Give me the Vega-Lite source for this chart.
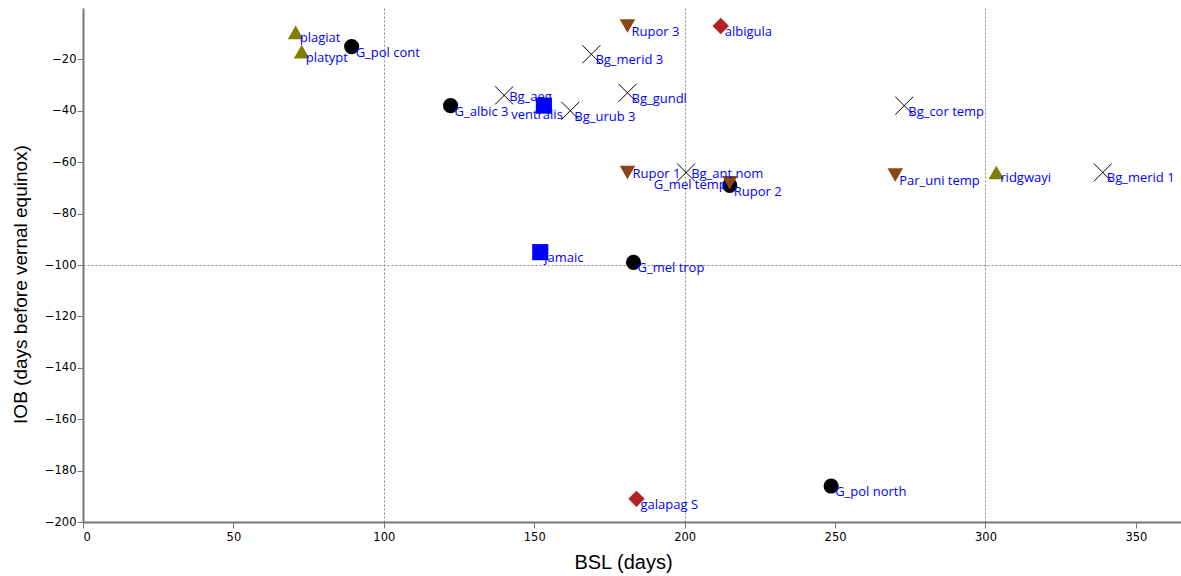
{
  "$schema": "https://vega.github.io/schema/vega-lite/v6.json",
  "width": 1098,
  "height": 514,
  "autosize": {"type": "none"},
  "padding": {"left": 83, "top": 8, "right": 0, "bottom": 54},
  "background": "white",
  "config": {
    "view": {"stroke": null},
    "axis": {
      "domainColor": "#777777",
      "domainWidth": 2,
      "tickColor": "#777777",
      "tickSize": 6,
      "gridColor": "#888888",
      "gridDash": [2, 2],
      "gridWidth": 1,
      "labelFont": "DejaVu Sans",
      "labelFontSize": 11.5,
      "labelColor": "#000000",
      "titleFont": "Liberation Sans",
      "titleFontSize": 19,
      "titleFontWeight": "normal",
      "titleColor": "#000000"
    }
  },
  "data": {
    "values": [
      {"name": "G_pol cont", "BSL": 89.3, "IOB": -15, "cat": "G"},
      {"name": "G_albic 3", "BSL": 122.2, "IOB": -38, "cat": "G"},
      {"name": "G_mel temp", "BSL": 215, "IOB": -69, "cat": "G"},
      {"name": "G_mel trop", "BSL": 183, "IOB": -99, "cat": "G"},
      {"name": "G_pol north", "BSL": 248.7, "IOB": -186, "cat": "G"},
      {"name": "plagiat", "BSL": 70.7, "IOB": -9.5, "cat": "T"},
      {"name": "platypt", "BSL": 72.7, "IOB": -17, "cat": "T"},
      {"name": "ridgwayi", "BSL": 303.6, "IOB": -64, "cat": "T"},
      {"name": "Rupor 3", "BSL": 181, "IOB": -7, "cat": "R"},
      {"name": "Rupor 1", "BSL": 181, "IOB": -64, "cat": "R"},
      {"name": "Rupor 2", "BSL": 215, "IOB": -68, "cat": "R"},
      {"name": "Par_uni temp", "BSL": 270, "IOB": -65, "cat": "R"},
      {"name": "albigula", "BSL": 212, "IOB": -7, "cat": "D"},
      {"name": "galapag S", "BSL": 184, "IOB": -191, "cat": "D"},
      {"name": "ventralis", "BSL": 153.2, "IOB": -38, "cat": "S"},
      {"name": "jamaic", "BSL": 152, "IOB": -95, "cat": "S"},
      {"name": "Bg_aeg", "BSL": 140, "IOB": -34, "cat": "Bg"},
      {"name": "Bg_urub 3", "BSL": 162, "IOB": -40, "cat": "Bg"},
      {"name": "Bg_merid 3", "BSL": 169, "IOB": -18, "cat": "Bg"},
      {"name": "Bg_gundl", "BSL": 181, "IOB": -33, "cat": "Bg"},
      {"name": "Bg_cor temp", "BSL": 273, "IOB": -38, "cat": "Bg"},
      {"name": "Bg_ant nom", "BSL": 200.5, "IOB": -64, "cat": "Bg"},
      {"name": "Bg_merid 1", "BSL": 339, "IOB": -64, "cat": "Bg"}
    ]
  },
  "encoding": {
    "x": {
      "field": "BSL",
      "type": "quantitative",
      "scale": {"domain": [0, 365], "nice": false, "zero": false},
      "axis": {
        "title": "BSL (days)",
        "values": [0, 50, 100, 150, 200, 250, 300, 350],
        "grid": true,
        "gridOpacity": {"condition": {"test": "datum.value % 100 === 0 && datum.value > 0", "value": 1}, "value": 0},
        "labelPadding": 3,
        "titlePadding": 10,
        "titleFontSize": 20,
        "titleX": 540
      }
    },
    "y": {
      "field": "IOB",
      "type": "quantitative",
      "scale": {"domain": [-200, 0], "nice": false, "zero": false},
      "axis": {
        "title": "IOB (days before vernal equinox)",
        "values": [-200, -180, -160, -140, -120, -100, -80, -60, -40, -20],
        "grid": true,
        "gridOpacity": {"condition": {"test": "datum.value === -100", "value": 1}, "value": 0},
        "labelPadding": 1,
        "titlePadding": 14,
        "titleY": 276
      }
    }
  },
  "layer": [
    {
      "transform": [{"filter": "datum.cat !== 'Bg'"}],
      "mark": {"type": "point", "filled": true, "opacity": 1, "strokeWidth": 0},
      "encoding": {
        "shape": {"field": "cat", "type": "nominal", "legend": null,
          "scale": {"domain": ["G", "R", "T", "S", "D"], "range": ["circle", "triangle-down", "triangle-up", "square", "diamond"]}},
        "color": {"field": "cat", "type": "nominal", "legend": null,
          "scale": {"domain": ["G", "R", "T", "S", "D"], "range": ["#000000", "#8B4513", "#808000", "#0000FF", "#B22222"]}},
        "size": {"field": "cat", "type": "ordinal", "legend": null,
          "scale": {"domain": ["G", "R", "T", "S", "D"], "range": [230, 270, 200, 256, 230]}}
      }
    },
    {
      "transform": [{"filter": "datum.cat === 'Bg'"}],
      "mark": {"type": "point", "shape": "M-1,-1L1,1M-1,1L1,-1", "filled": false, "stroke": "#000000", "strokeWidth": 1, "size": 324, "opacity": 1}
    },
    {
      "transform": [{"filter": "indexof(['Bg_aeg','Rupor 1','Bg_ant nom','Rupor 2','G_mel temp','ventralis'], datum.name) < 0"}],
      "mark": {"type": "text", "align": "left", "baseline": "middle", "dx": 4, "dy": 6, "font": "Open Sans", "fontSize": 13, "color": "#0000FF"},
      "encoding": {"text": {"field": "name"}}
    },
    {
      "transform": [{"filter": "indexof(['Bg_aeg','Rupor 1','Bg_ant nom'], datum.name) >= 0"}],
      "mark": {"type": "text", "align": "left", "baseline": "middle", "dx": 5, "dy": 2, "font": "Open Sans", "fontSize": 13, "color": "#0000FF"},
      "encoding": {"text": {"field": "name"}}
    },
    {
      "transform": [{"filter": "datum.name === 'Rupor 2'"}],
      "mark": {"type": "text", "align": "left", "baseline": "middle", "dx": 4, "dy": 9, "font": "Open Sans", "fontSize": 13, "color": "#0000FF"},
      "encoding": {"text": {"field": "name"}}
    },
    {
      "transform": [{"filter": "datum.name === 'G_mel temp'"}],
      "mark": {"type": "text", "align": "right", "baseline": "middle", "dx": -3, "dy": 0, "font": "Open Sans", "fontSize": 13, "color": "#0000FF"},
      "encoding": {"text": {"field": "name"}}
    },
    {
      "transform": [{"filter": "datum.name === 'ventralis'"}],
      "mark": {"type": "text", "align": "right", "baseline": "middle", "dx": 19, "dy": 9, "font": "Open Sans", "fontSize": 13, "color": "#0000FF"},
      "encoding": {"text": {"field": "name"}}
    }
  ]
}
